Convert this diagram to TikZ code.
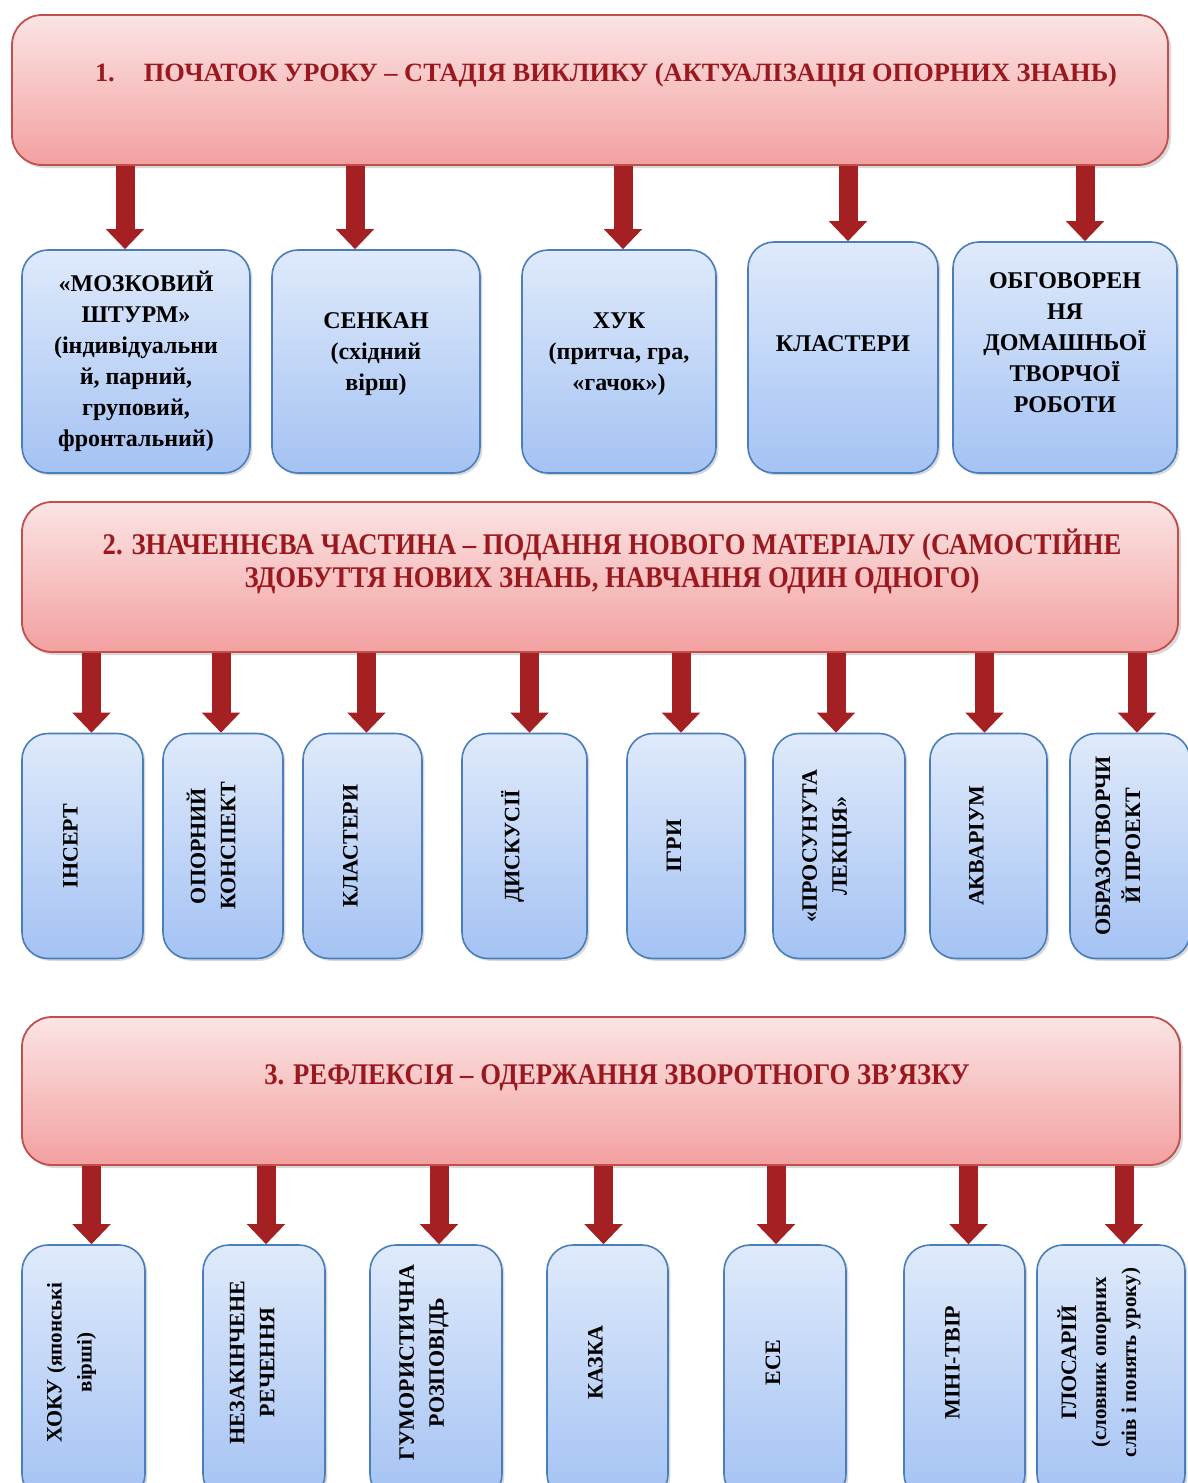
\documentclass[tikz,border=0pt]{standalone}
\usepackage{fontspec}
\setmainfont{Liberation Serif}
\newfontfamily\narrowserif{Liberation Serif}[FakeStretch=0.89]
\usetikzlibrary{arrows.meta,positioning,shadows,calc}

\definecolor{stageedge}{RGB}{192,80,77}
\definecolor{stagetop}{RGB}{251,228,228}
\definecolor{stagebot}{RGB}{243,160,160}
\definecolor{stagetext}{RGB}{155,25,30}
\definecolor{tooledge}{RGB}{74,126,187}
\definecolor{tooltop}{RGB}{223,234,251}
\definecolor{toolbot}{RGB}{164,194,243}
\definecolor{arrowred}{RGB}{165,32,34}

\begin{document}
\begin{tikzpicture}[
  x=0.5pt, y=-0.5pt,
  stage/.style={draw=stageedge, line width=0.9pt, rounded corners=15pt,
    top color=stagetop, bottom color=stagebot, minimum height=75pt,
    drop shadow={opacity=0.3, shadow xshift=1.5pt, shadow yshift=-1.5pt}},
  stagetitle/.style={text=stagetext, align=center},
  tool/.style={draw=tooledge, line width=0.8pt, rounded corners=13pt,
    top color=tooltop, bottom color=toolbot, inner sep=2pt,
    drop shadow={opacity=0.3, shadow xshift=1.2pt, shadow yshift=-1.2pt}},
  tooltext/.style={font=\bfseries\fontsize{12}{15.5}\selectfont, align=center},
  vtext/.style={font=\bfseries\fontsize{11}{15}\selectfont, align=center, rotate=90},
  down/.style={-{Triangle[width=18.5pt,length=10pt]}, line width=9.5pt, draw=arrowred}
]
\useasboundingbox (0,0) rectangle (1188,1483);
\clip (0,0) rectangle (1188,1483);

% Stage 1
\node[stage, minimum width=578pt] (H1) at (590,90) {};
\node[stagetitle, font=\bfseries\fontsize{13.2}{16}\selectfont] (H1t) at (606,75)
  {1.\hspace{1.1em}ПОЧАТОК УРОКУ – СТАДІЯ ВИКЛИКУ (АКТУАЛІЗАЦІЯ ОПОРНИХ ЗНАНЬ)};

\node[tool, tooltext, minimum width=114pt, minimum height=111.5pt] (B1) at (136,361.5)
  {«МОЗКОВИЙ\\ШТУРМ»\\(індивідуальни\\й, парний,\\груповий,\\фронтальний)};
\node[tool, tooltext, minimum width=104pt, minimum height=111.5pt] (B2) at (376,361.5)
  {СЕНКАН\\(східний\\вірш)\\[-5.5pt]};
\node[tool, tooltext, minimum width=97pt, minimum height=111.5pt] (B3) at (619,361.5)
  {ХУК\\(притча, гра,\\«гачок»)\\[-5.5pt]};
\node[tool, tooltext, minimum width=95pt, minimum height=115.5pt] (B4) at (843,357.5)
  {КЛАСТЕРИ\\[-1.5pt]};
\node[tool, tooltext, minimum width=112pt, minimum height=115.5pt] (B5) at (1065,357.5)
  {ОБГОВОРЕН\\НЯ\\ДОМАШНЬОЇ\\ТВОРЧОЇ\\РОБОТИ\\[-1pt]};

% Stage 2
\node[stage, minimum width=578pt] (H2) at (600,577) {};
\node[stagetitle, font=\narrowserif\bfseries\fontsize{15}{16.5}\selectfont] (H2t) at (612,561)
  {2. ЗНАЧЕННЄВА ЧАСТИНА – ПОДАННЯ НОВОГО МАТЕРІАЛУ (САМОСТІЙНЕ\\
   ЗДОБУТТЯ НОВИХ ЗНАНЬ, НАВЧАННЯ ОДИН ОДНОГО)};

\foreach \n/\cx/\w in {C1/82.5/60.5, C2/223/60, C3/362.5/59.5, C4/524.5/62.5,
    C5/686/59, C6/839/66, C7/988.5/58.5, C8/1130/60}
  \node[tool, minimum width=\w pt, minimum height=112.5pt] (\n) at (\cx,846) {};

\node[vtext] (C1t) at ([xshift=-6pt]C1.center) {ІНСЕРТ};
\node[vtext] (C2t) at ([xshift=-6pt]C2.center) {ОПОРНИЙ\\КОНСПЕКТ};
\node[vtext] (C3t) at ([xshift=-6pt]C3.center) {КЛАСТЕРИ};
\node[vtext] (C4t) at ([xshift=-6pt]C4.center) {ДИСКУСІЇ};
\node[vtext] (C5t) at ([xshift=-6pt]C5.center) {ІГРИ};
\node[vtext] (C6t) at ([xshift=-6pt]C6.center) {«ПРОСУНУТА\\ЛЕКЦІЯ»};
\node[vtext] (C7t) at ([xshift=-6pt]C7.center) {АКВАРІУМ};
\node[vtext] (C8t) at ([xshift=-6pt]C8.center) {ОБРАЗОТВОРЧИ\\Й ПРОЕКТ};

% Stage 3
\node[stage, minimum width=579pt, minimum height=74pt] (H3) at (601,1091) {};
\node[stagetitle, font=\narrowserif\bfseries\fontsize{15}{16.5}\selectfont] (H3t) at (617,1078)
  {3. РЕФЛЕКСІЯ – ОДЕРЖАННЯ ЗВОРОТНОГО ЗВ’ЯЗКУ};

\foreach \n/\cx/\w in {D1/83.5/61.5, D2/264/61, D3/436/66, D4/607.5/60.5,
    D5/785/61, D6/964.5/60.5, D7/1111/74}
  \node[tool, minimum width=\w pt, minimum height=127.5pt] (\n) at (\cx,1372.5) {};

\node[vtext] (D1t) at ([xshift=-6pt,yshift=5pt]D1.center)
  {ХОКУ {\fontsize{10.5}{14}\selectfont(японські}\\{\fontsize{10.5}{14}\selectfont вірші)}};
\node[vtext] (D2t) at ([xshift=-6pt,yshift=5pt]D2.center) {НЕЗАКІНЧЕНЕ\\РЕЧЕННЯ};
\node[vtext] (D3t) at ([xshift=-6pt,yshift=5pt]D3.center) {ГУМОРИСТИЧНА\\РОЗПОВІДЬ};
\node[vtext] (D4t) at ([xshift=-6pt,yshift=5pt]D4.center) {КАЗКА};
\node[vtext] (D5t) at ([xshift=-6pt,yshift=5pt]D5.center) {ЕСЕ};
\node[vtext] (D6t) at ([xshift=-6pt,yshift=5pt]D6.center) {МІНІ-ТВІР};
\node[vtext] (D7t) at ([xshift=-6pt,yshift=5pt]D7.center)
  {ГЛОСАРІЙ\\{\fontsize{10.5}{14}\selectfont(словник опорних}\\{\fontsize{10.5}{14}\selectfont слів і понять уроку)}};

% Arrows
\foreach \n/\dx in {B1/-11, B2/-21, B3/4, B4/5, B5/20}
  \draw[down] ($(H1.south -| \n.north)+(\dx,0)$) -- ($(\n.north)+(\dx,0)$);
\foreach \n/\dx in {C1/9, C2/-2, C3/4, C4/5, C5/-5, C6/-3, C7/-4, C8/7}
  \draw[down] ($(H2.south -| \n.north)+(\dx,0)$) -- ($(\n.north)+(\dx,0)$);
\foreach \n/\dx in {D1/8, D2/2, D3/3, D4/-4, D5/-9, D6/4, D7/13}
  \draw[down] ($(H3.south -| \n.north)+(\dx,0)$) -- ($(\n.north)+(\dx,0)$);
\end{tikzpicture}
\end{document}
